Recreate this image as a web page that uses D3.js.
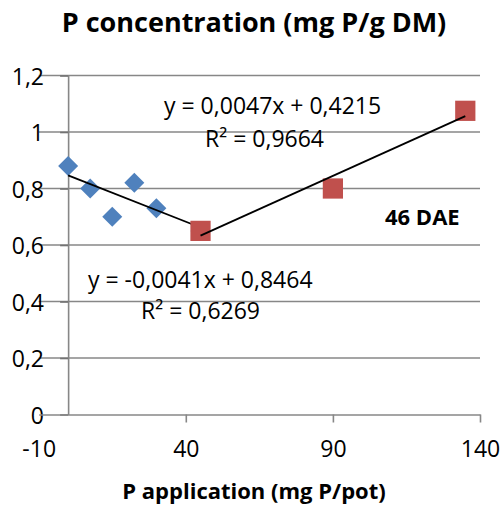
<!DOCTYPE html>
<html>
<head>
<meta charset="utf-8">
<script src="https://cdn.jsdelivr.net/npm/d3@7"></script>
<style>
  html, body { margin: 0; padding: 0; background: #fff; }
  svg { display: block; font-family: "Open Sans", "Noto Sans", sans-serif; }
</style>
</head>
<body>
<svg id="chart" width="504" height="506"></svg>
<script>
// P applied (mg P/pot) and P concentration (mg P/g DM), 46 days after emergence
const lowDoseX = [0, 7.5, 15, 22.5, 30, 45];
const lowDoseY = [0.88, 0.80, 0.70, 0.82, 0.73, 0.65];
const highDoseX = [45, 90, 135];
const highDoseY = [0.65, 0.80, 1.075];

// Linear trendlines as reported
const lowFit = { slope: -0.0041, intercept: 0.8464, r2: 0.6269, from: 0, to: 45 };
const highFit = { slope: 0.0047, intercept: 0.4215, r2: 0.9664, from: 45, to: 135 };

const xTicks = [-10, 40, 90, 140];
const yTicks = [0, 0.2, 0.4, 0.6, 0.8, 1, 1.2];

const titleText = "P concentration (mg P/g DM)";
const xTitleText = "P application (mg P/pot)";
const stageText = "46 DAE";

const blue = "#4f81bd";
const red = "#c0504d";
const gridColor = "#878787";

const locale = d3.formatLocale({ decimal: ",", thousands: ".", grouping: [3], currency: ["", ""], minus: "-" });
const tickFmt = locale.format("~g");
const coefFmt = locale.format(".4f");

const svg = d3.select("#chart");
svg.append("rect").attr("width", 504).attr("height", 506).attr("fill", "#fff");

const x = d3.scaleLinear().domain([-10, 140]).range([38.7, 480]);
const y = d3.scaleLinear().domain([0, 1.2]).range([414.5, 75.5]);

// horizontal gridlines across the full plot width
svg.append("g").selectAll("line").data(yTicks.filter(d => d > 0)).join("line")
  .attr("x1", x(-10)).attr("x2", x(140))
  .attr("y1", d => y(d)).attr("y2", d => y(d))
  .attr("stroke", gridColor).attr("stroke-width", 1.6);

// vertical axis crossing at x = 0, labels pushed out to the plot's left edge
const tickLen = 8;
const labelRight = 44;
const yAxis = d3.axisLeft(y).tickValues(yTicks).tickFormat(tickFmt)
  .tickSize(tickLen).tickSizeOuter(0)
  .tickPadding(x(0) - tickLen - labelRight);
const gy = svg.append("g").attr("transform", `translate(${x(0)},0)`).call(yAxis);
gy.select(".domain").attr("stroke", gridColor).attr("stroke-width", 1.6);
gy.selectAll(".tick line").attr("stroke", "#737373").attr("stroke-width", 1.6);
gy.selectAll(".tick text").attr("font-size", 23).attr("fill", "#000")
  .attr("font-family", "Open Sans").attr("dy", "0.38em");

// horizontal axis at y = 0
const xAxis = d3.axisBottom(x).tickValues(xTicks).tickFormat(tickFmt)
  .tickSize(tickLen).tickSizeOuter(0).tickPadding(18);
const gx = svg.append("g").attr("transform", `translate(0,${y(0)})`).call(xAxis);
gx.select(".domain").attr("stroke", gridColor).attr("stroke-width", 1.6);
gx.selectAll(".tick line").attr("stroke", gridColor).attr("stroke-width", 1.6)
  .filter(d => d === -10).remove();
gx.selectAll(".tick text").attr("font-size", 23).attr("fill", "#000")
  .attr("font-family", "Open Sans");

const fitLine = f => [[f.from, f.intercept + f.slope * f.from], [f.to, f.intercept + f.slope * f.to]];
const line = d3.line().x(d => x(d[0])).y(d => y(d[1]));

// low-dose series: diamonds, then its trendline
const diamond = d3.symbol().type(d3.symbolSquare).size(200);
svg.append("g").selectAll("path").data(d3.zip(lowDoseX, lowDoseY)).join("path")
  .attr("d", diamond)
  .attr("transform", d => `translate(${x(d[0])},${y(d[1])}) rotate(45)`)
  .attr("fill", blue);
svg.append("path").attr("d", line(fitLine(lowFit)))
  .attr("stroke", "#000").attr("stroke-width", 1.8).attr("fill", "none");

// high-dose series: squares, then its trendline
const square = d3.symbol().type(d3.symbolSquare).size(410);
svg.append("g").selectAll("path").data(d3.zip(highDoseX, highDoseY)).join("path")
  .attr("d", square)
  .attr("transform", d => `translate(${x(d[0])},${y(d[1])})`)
  .attr("fill", red);
svg.append("path").attr("d", line(fitLine(highFit)))
  .attr("stroke", "#000").attr("stroke-width", 1.8).attr("fill", "none");

// trendline equations
const eq = f => `y = ${coefFmt(f.slope)}x + ${coefFmt(f.intercept)}`;
const r2 = f => `R² = ${coefFmt(f.r2)}`;
const labels = svg.append("g").attr("font-size", 23).attr("fill", "#000");
labels.append("text").attr("x", 164).attr("y", 114).text(eq(highFit));
labels.append("text").attr("x", 205).attr("y", 147).text(r2(highFit));
labels.append("text").attr("x", 88).attr("y", 288).text(eq(lowFit));
labels.append("text").attr("x", 141).attr("y", 319).text(r2(lowFit));

svg.append("text").attr("x", 385).attr("y", 225)
  .attr("font-size", 22).attr("font-weight", "bold").text(stageText);

// titles
svg.append("text").attr("x", 254).attr("y", 32).attr("text-anchor", "middle")
  .attr("font-size", 27).attr("font-weight", "bold").text(titleText);
svg.append("text").attr("x", 254).attr("y", 499).attr("text-anchor", "middle")
  .attr("font-size", 22).attr("font-weight", "bold").text(xTitleText);
</script>
</body>
</html>
